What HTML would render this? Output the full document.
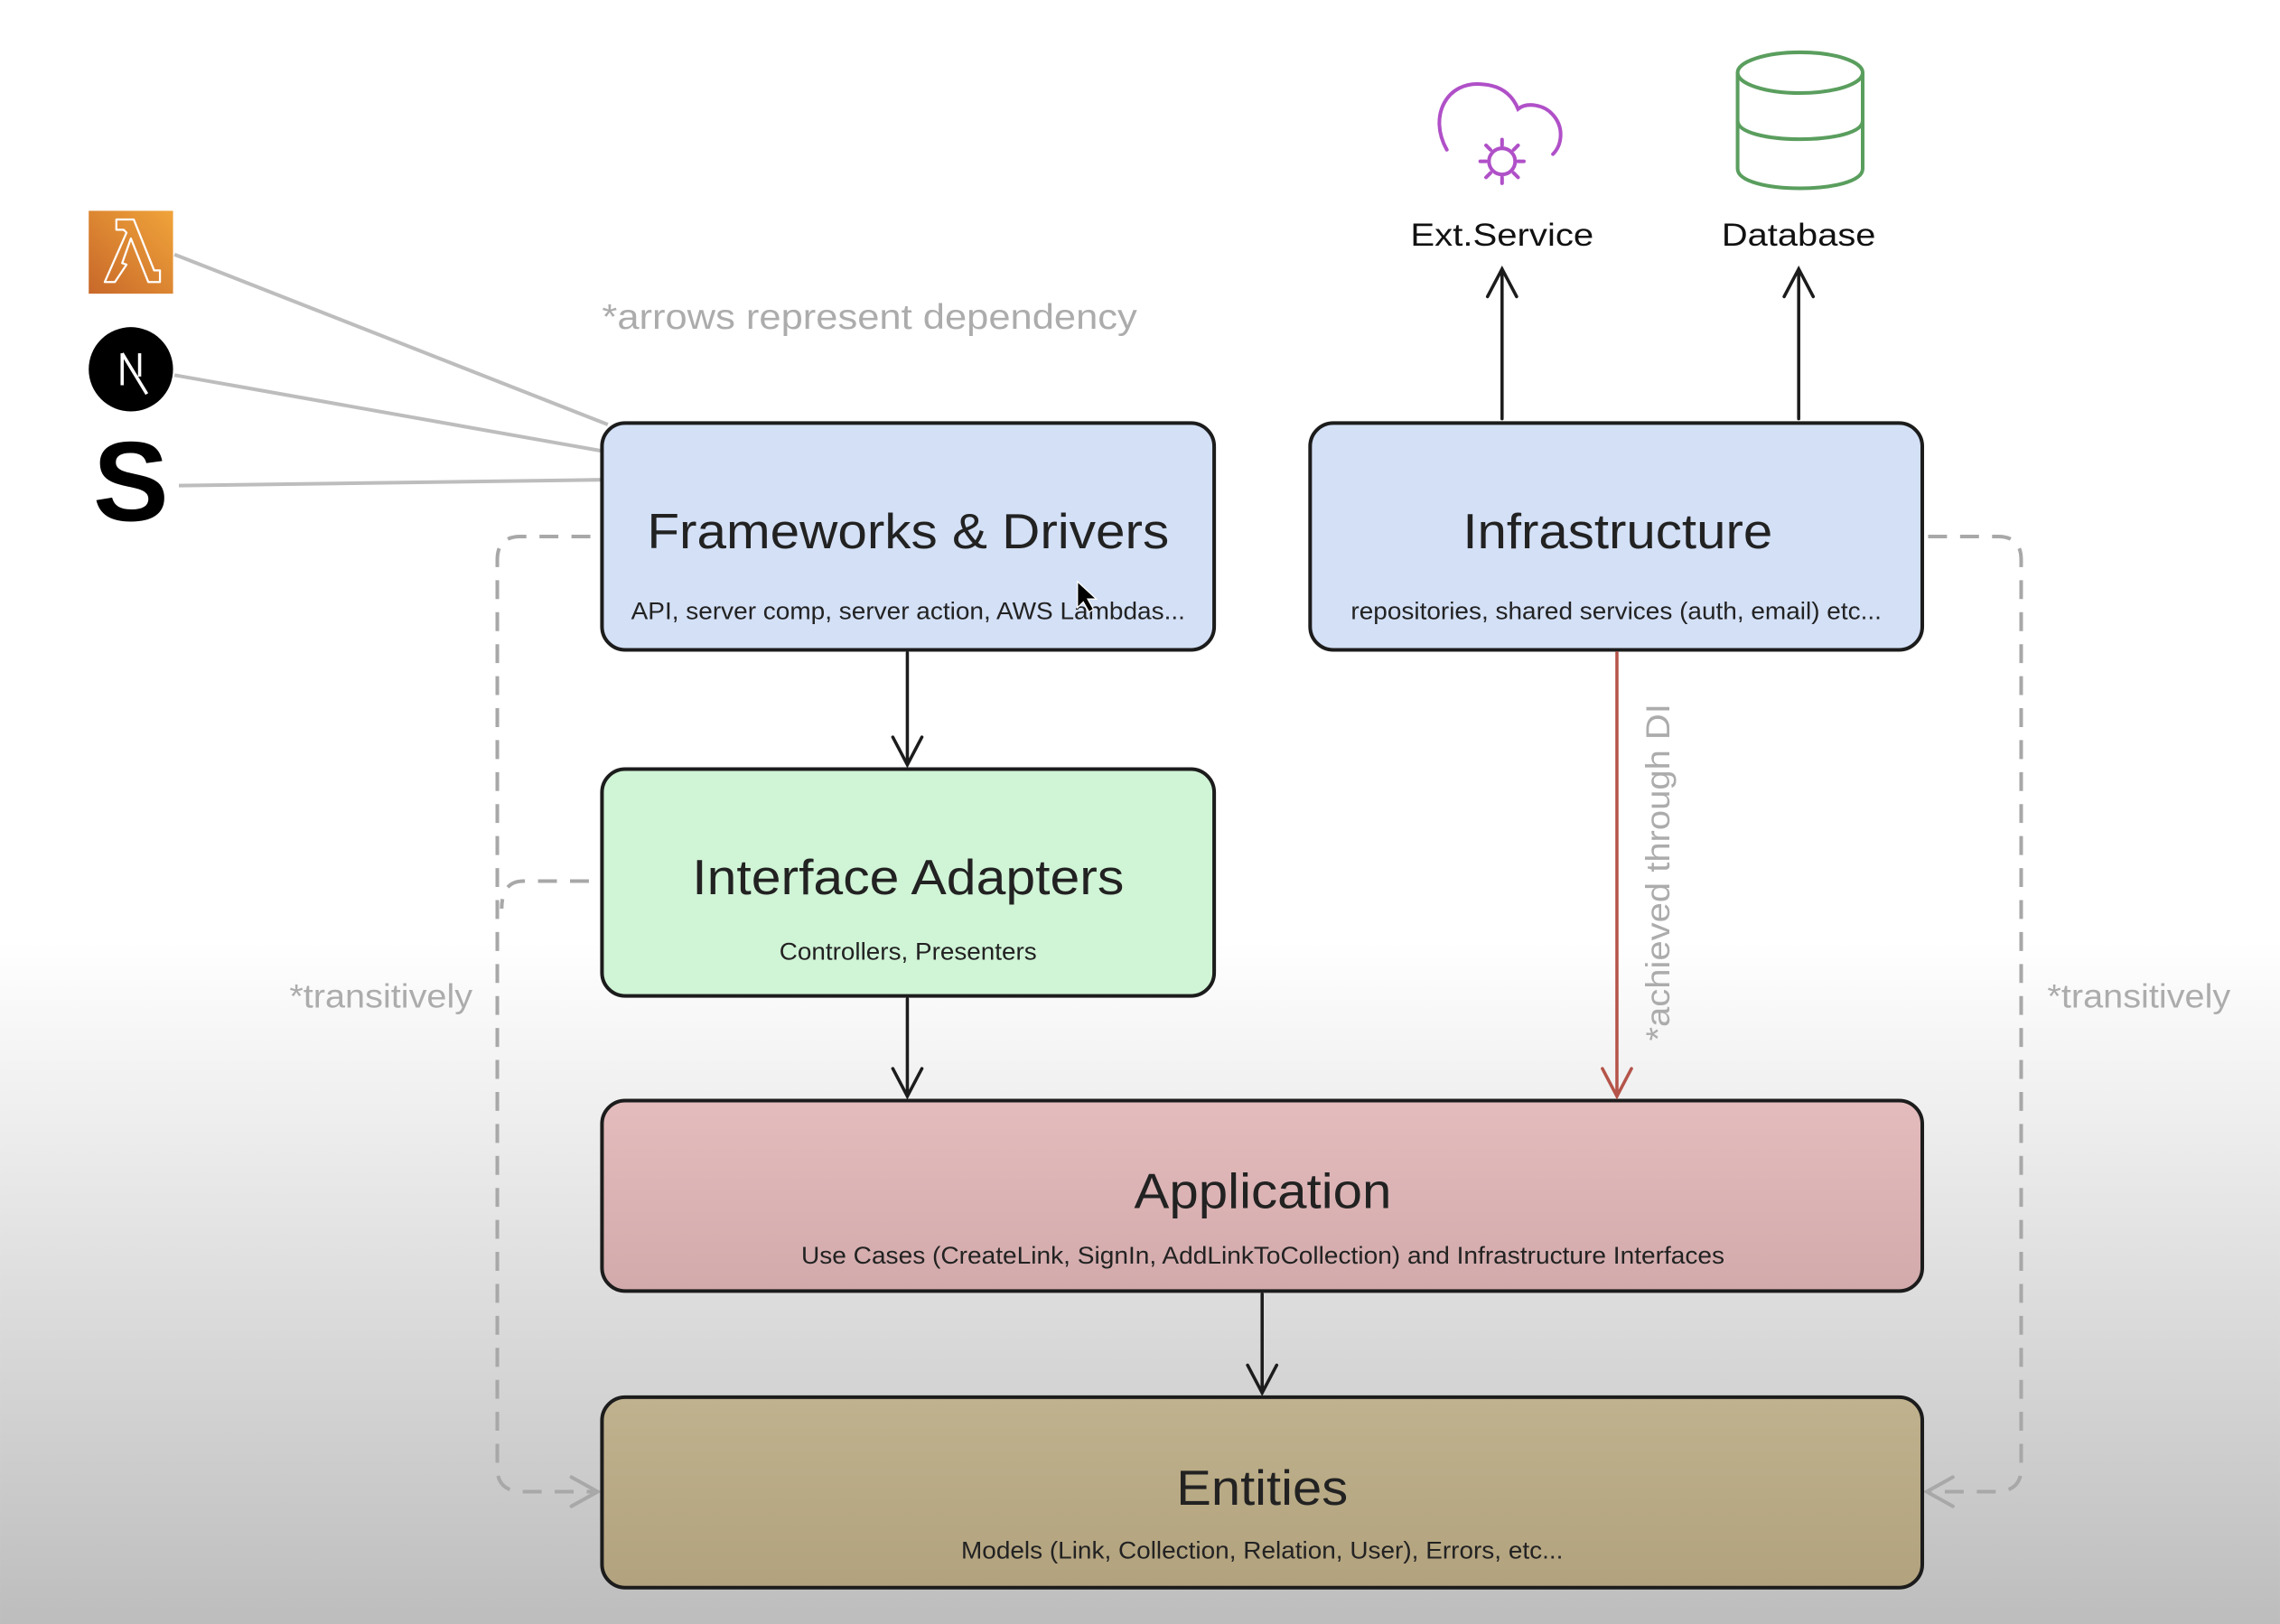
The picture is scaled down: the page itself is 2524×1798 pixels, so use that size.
<!DOCTYPE html>
<html><head><meta charset="utf-8"><style>
html,body{margin:0;padding:0;width:2524px;height:1798px;overflow:hidden;background:#fff}
svg{display:block}
text{font-family:"Liberation Sans",Arial,sans-serif}
</style></head><body>
<svg width="2524" height="1798" viewBox="0 0 1568 1117" xmlns="http://www.w3.org/2000/svg">
<defs>
<linearGradient id="bg" x1="0" y1="0" x2="0" y2="1">
<stop offset="0" stop-color="#ffffff"/><stop offset="0.58" stop-color="#ffffff"/><stop offset="1" stop-color="#bdbdbd"/>
</linearGradient>
<linearGradient id="lam" x1="1" y1="0" x2="0" y2="1"><stop offset="0" stop-color="#f0a43a"/><stop offset="1" stop-color="#c8682a"/></linearGradient>
<linearGradient id="app" x1="0" y1="0" x2="0" y2="1"><stop offset="0" stop-color="#e4bcbd"/><stop offset="1" stop-color="#d2aaab"/></linearGradient>
<linearGradient id="ent" x1="0" y1="0" x2="0" y2="1"><stop offset="0" stop-color="#c0b28e"/><stop offset="1" stop-color="#b2a27e"/></linearGradient>
</defs>
<rect x="0" y="0" width="1568" height="1117" fill="url(#bg)"/>

<g stroke="#bdbdbd" stroke-width="2.5" fill="none">
<line x1="120" y1="175" x2="418" y2="292"/>
<line x1="120" y1="258" x2="413" y2="310"/>
<line x1="123" y1="334" x2="413" y2="330"/>
</g>

<rect x="61" y="145" width="58" height="57" fill="url(#lam)"/>
<path d="M80 158 L80 151 L92 151 L106 186 L110 186 L110 194 L102 194 L90 164 L84 181 L87 182 L79 194 L72 194 L87 160 L85 158 Z" fill="none" stroke="#fff" stroke-width="1.4" stroke-linejoin="round"/>
<circle cx="90" cy="254" r="29" fill="#000"/>
<path d="M84 243 V265 M84 243 L101 271 M96 243 V259" stroke="#fff" stroke-width="2.2" fill="none"/>
<text x="90" y="358" text-anchor="middle" font-size="78" font-weight="bold" fill="#000">S</text>

<g fill="none" stroke="#b050c8" stroke-width="2.5" stroke-linecap="round">
<path d="M995 103 C982 80 995 55 1020 58 C1032 59 1040 65 1044 75 C1050 70 1062 72 1068 79 C1076 88 1074 100 1068 106"/>
<circle cx="1033" cy="111" r="9"/>
<path d="M1033 96 V100 M1033 122 V126 M1018 111 H1022 M1044 111 H1048 M1022 100 L1025 103 M1041 119 L1044 122 M1044 100 L1041 103 M1025 119 L1022 122"/>
</g>
<g fill="none" stroke="#5a9e5e" stroke-width="2.5">
<ellipse cx="1238" cy="50" rx="43" ry="14"/>
<path d="M1195 50 V116 C1195 134 1281 134 1281 116 V50"/>
<path d="M1195 83 C1195 100 1281 100 1281 83"/>
</g>
<text x="1033" y="169" font-size="22" fill="#111" text-anchor="middle" textLength="126" lengthAdjust="spacingAndGlyphs">Ext.Service</text>
<text x="1237" y="169" font-size="22" fill="#111" text-anchor="middle" textLength="106" lengthAdjust="spacingAndGlyphs">Database</text>

<text x="414" y="226" font-size="24" fill="#acacac" textLength="368" lengthAdjust="spacingAndGlyphs">*arrows represent dependency</text>
<text x="199" y="693" font-size="23" fill="#acacac" textLength="126" lengthAdjust="spacingAndGlyphs">*transitively</text>
<text x="1408" y="693" font-size="23" fill="#acacac" textLength="126" lengthAdjust="spacingAndGlyphs">*transitively</text>
<text transform="translate(1148,600) rotate(-90)" x="0" y="0" font-size="23" fill="#acacac" text-anchor="middle" textLength="232" lengthAdjust="spacingAndGlyphs">*achieved through DI</text>

<g fill="none" stroke="#a8a8a8" stroke-width="2.5" stroke-dasharray="13 9">
<path d="M406 369 H358 Q342 369 342 385 V1010 Q342 1026 360 1026 H408"/>
<path d="M405 606 H360 Q345 606 345 625"/>
<path d="M1326 369 H1374 Q1390 369 1390 385 V1010 Q1390 1026 1372 1026 H1328"/>
</g>
<g fill="none" stroke="#a8a8a8" stroke-width="2.5" stroke-linecap="round">
<path d="M393 1016 L411 1026 L393 1036"/>
<path d="M1343 1016 L1325 1026 L1343 1036"/>
</g>

<g stroke="#1c1c1c" stroke-width="2.5">
<rect x="414" y="291" width="421" height="156" rx="16" fill="#d3e0f6"/>
<rect x="901" y="291" width="421" height="156" rx="16" fill="#d3e0f6"/>
<rect x="414" y="529" width="421" height="156" rx="16" fill="#d0f4d6"/>
<rect x="414" y="757" width="908" height="131" rx="16" fill="url(#app)"/>
<rect x="414" y="961" width="908" height="131" rx="16" fill="url(#ent)"/>
</g>

<g fill="#222">
<text x="445" y="377" font-size="34" textLength="359" lengthAdjust="spacingAndGlyphs">Frameworks &amp; Drivers</text>
<text x="434" y="426" font-size="16.5" textLength="381" lengthAdjust="spacingAndGlyphs">API, server comp, server action, AWS Lambdas...</text>
<text x="1006" y="377" font-size="34" textLength="213" lengthAdjust="spacingAndGlyphs">Infrastructure</text>
<text x="929" y="426" font-size="16.5" textLength="365" lengthAdjust="spacingAndGlyphs">repositories, shared services (auth, email) etc...</text>
<text x="476" y="615" font-size="34" textLength="297" lengthAdjust="spacingAndGlyphs">Interface Adapters</text>
<text x="536" y="660" font-size="16.5" textLength="177" lengthAdjust="spacingAndGlyphs">Controllers, Presenters</text>
<text x="780" y="831" font-size="34" textLength="177" lengthAdjust="spacingAndGlyphs">Application</text>
<text x="551" y="869" font-size="16.5" textLength="635" lengthAdjust="spacingAndGlyphs">Use Cases (CreateLink, SignIn, AddLinkToCollection) and Infrastructure Interfaces</text>
<text x="809" y="1035" font-size="34" textLength="118" lengthAdjust="spacingAndGlyphs">Entities</text>
<text x="661" y="1072" font-size="16.5" textLength="414" lengthAdjust="spacingAndGlyphs">Models (Link, Collection, Relation, User), Errors, etc...</text>
</g>
<path d="M741 400 L741 418 L745 414 L749 421 L752 419 L748 412 L754 412 Z" fill="#000" stroke="#fff" stroke-width="0.8"/>

<g fill="none" stroke="#1c1c1c" stroke-width="2.2" stroke-linecap="round">
<path d="M624 449 V526 M614 507 L624 526 L634 507"/>
<path d="M624 687 V754 M614 735 L624 754 L634 735"/>
<path d="M868 890 V958 M858 939 L868 958 L878 939"/>
<path d="M1033 288 V185 M1023 204 L1033 185 L1043 204"/>
<path d="M1237 288 V185 M1227 204 L1237 185 L1247 204"/>
</g>
<path d="M1112 449 V754 M1102 735 L1112 754 L1122 735" fill="none" stroke="#b5544a" stroke-width="2.2" stroke-linecap="round"/>
</svg>
</body></html>
